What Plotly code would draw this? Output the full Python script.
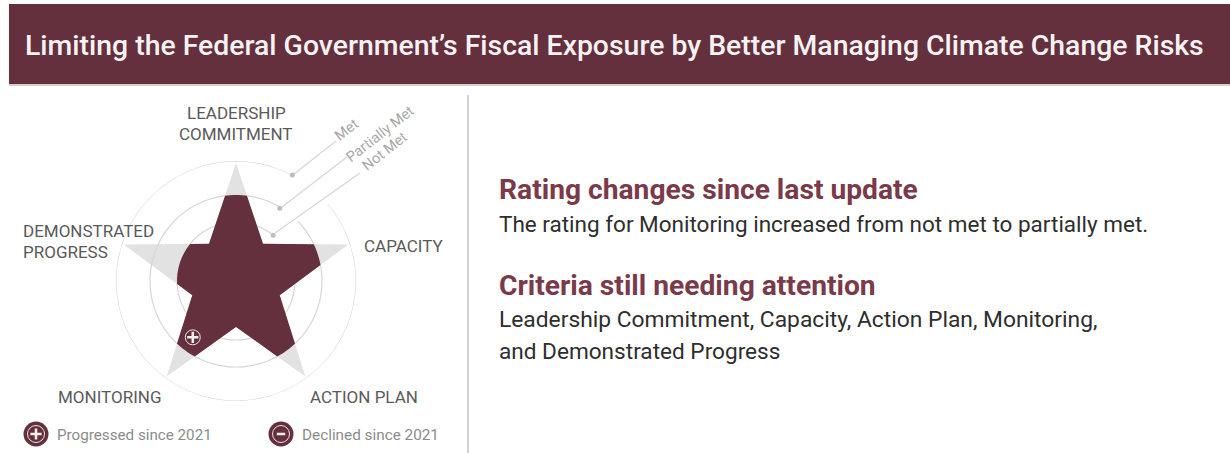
import numpy as np
import plotly.graph_objects as go

W, H = 1230, 453
MAROON = "#65303D"
HEAD = "#7A3A4A"
FONT = "Roboto"

title = "Limiting the Federal Government’s Fiscal Exposure by Better Managing Climate Change Risks"
criteria = ["LEADERSHIP<br>COMMITMENT", "CAPACITY", "ACTION PLAN", "MONITORING", "DEMONSTRATED<br>PROGRESS"]
levels = ["Not Met", "Partially Met", "Met"]
level_radius = [59, 86, 120]
ratings = ["Partially Met", "Partially Met", "Partially Met", "Partially Met", "Not Met"]
star_tip_radius = 118
star_inner_radius = 46
circle_gap_start = [39, 31, 28]
circle_gap_end = [58, 46, 50]


def px(x):
    return x / W


def py(y):
    return 1 - y / H


def cart(r, t):
    a = np.radians(t)
    return np.array([r * np.sin(a), r * np.cos(a)])


def polar_of(p):
    return float(np.hypot(*p)), float(np.degrees(np.arctan2(p[0], p[1])) % 360)


def edge_at(radius, tip_t, side):
    inner = cart(star_inner_radius, tip_t + side * 36)
    tip = cart(star_tip_radius, tip_t)
    lo, hi = 0.0, 1.0
    for _ in range(40):
        m = (lo + hi) / 2
        if np.hypot(*(inner + (tip - inner) * m)) < radius:
            lo = m
        else:
            hi = m
    return inner + (tip - inner) * lo


star_r, star_t = [], []
for i in range(5):
    tip_t = 72 * i
    star_r += [star_tip_radius, star_inner_radius]
    star_t += [tip_t, tip_t + 36]
star_r.append(star_r[0])
star_t.append(star_t[0])

rated_r, rated_t = [], []
for i, rating in enumerate(ratings):
    tip_t = 72 * i
    R = level_radius[levels.index(rating)]
    r0, t0 = polar_of(edge_at(R, tip_t, -1))
    r1, t1 = polar_of(edge_at(R, tip_t, 1))
    t0 = t0 if t0 <= tip_t or i else t0 - 360
    span = np.linspace(t0, t1, 9)
    rated_r += [R] * 9
    rated_t += list(span)
    rated_r.append(star_inner_radius)
    rated_t.append(tip_t + 36)
rated_r.append(rated_r[0])
rated_t.append(rated_t[0])

fig = go.Figure()

fig.add_trace(go.Scatterpolar(r=star_r, theta=star_t, mode="lines", fill="toself",
                              fillcolor="#E2E2E2", line=dict(color="#E2E2E2", width=0),
                              hoverinfo="skip", showlegend=False))
for R, g0, g1 in zip(level_radius, circle_gap_start, circle_gap_end):
    t = np.arange(g1, g0 + 361, 2.0)
    fig.add_trace(go.Scatterpolar(r=[R] * len(t), theta=t, mode="lines",
                                  line=dict(color="#D6D6D6", width=1.2), cliponaxis=False,
                                  hoverinfo="skip", showlegend=False))
fig.add_trace(go.Scatterpolar(r=rated_r, theta=rated_t, mode="lines", fill="toself",
                              fillcolor=MAROON, line=dict(color=MAROON, width=0),
                              hoverinfo="skip", showlegend=False))
fig.add_trace(go.Scatterpolar(r=[120, 85, 59], theta=[28, 31, 39], mode="markers",
                              marker=dict(color="#BDBDBD", size=5), cliponaxis=False,
                              hoverinfo="skip", showlegend=False))
# change marker on the Monitoring arm
fig.add_trace(go.Scatterpolar(r=[71], theta=[217.5], mode="markers",
                              marker=dict(color="rgba(0,0,0,0)", size=15, line=dict(color="#EDE4E6", width=1)),
                              hoverinfo="skip", showlegend=False))
fig.add_trace(go.Scatterpolar(r=[71], theta=[217.5], mode="markers",
                              marker=dict(symbol="cross-thin", size=8, line=dict(color="#F4EEEF", width=2.5)),
                              hoverinfo="skip", showlegend=False))

# legend icons
legend_x = [36, 281]
legend_y = [434, 434]
fig.add_trace(go.Scatter(x=legend_x, y=legend_y, mode="markers",
                         marker=dict(color=MAROON, size=25), hoverinfo="skip", showlegend=False))
fig.add_trace(go.Scatter(x=legend_x, y=legend_y, mode="markers",
                         marker=dict(color="rgba(0,0,0,0)", size=17, line=dict(color="#E9DFE1", width=1)),
                         hoverinfo="skip", showlegend=False))
fig.add_trace(go.Scatter(x=legend_x[:1], y=legend_y[:1], mode="markers",
                         marker=dict(symbol="cross-thin", size=8, line=dict(color="#F4EEEF", width=2.5)),
                         hoverinfo="skip", showlegend=False))
fig.add_trace(go.Scatter(x=legend_x[1:], y=legend_y[1:], mode="markers",
                         marker=dict(symbol="line-ew", size=6, line=dict(color="#F4EEEF", width=2.5)),
                         hoverinfo="skip", showlegend=False))

shapes = [
    dict(type="rect", xref="paper", yref="paper", x0=px(9), x1=1, y0=py(84), y1=py(4),
         fillcolor=MAROON, line_width=0, layer="below"),
    dict(type="line", xref="paper", yref="paper", x0=px(9), x1=1, y0=py(85), y1=py(85),
         line=dict(color="#C9BDC0", width=1.5), layer="below"),
    dict(type="line", xref="paper", yref="paper", x0=px(468), x1=px(468), y0=py(95), y1=py(453),
         line=dict(color="#D2D2D2", width=2), layer="below"),
]
leaders = [((294, 174), (336, 141)), ((282, 207), (347, 157)), ((275, 233), (360, 173))]
for (a, b) in leaders:
    shapes.append(dict(type="line", xref="paper", yref="paper", x0=px(a[0]), y0=py(a[1]),
                       x1=px(b[0]), y1=py(b[1]), line=dict(color="#D6D6D6", width=1.2), layer="below"))


def text(x, y, s, size, color, anchor="left", angle=0, weight=None):
    fig.add_annotation(xref="paper", yref="paper", x=px(x), y=py(y), text=s, showarrow=False,
                       xanchor=anchor, yanchor="middle", textangle=angle, align="left",
                       font=dict(family=FONT, size=size, color=color, weight=weight))


text(23, 46, title, 28.4, "#F7F3F4", weight=500)
text(497, 189, "<b>Rating changes since last update</b>", 28.2, HEAD)
text(497, 224, "The rating for Monitoring increased from not met to partially met.", 22.5, "#2E2E2E")
text(497, 285, "<b>Criteria still needing attention</b>", 28.2, HEAD)
text(497, 319, "Leadership Commitment, Capacity, Action Plan, Monitoring,", 22.8, "#2E2E2E")
text(497, 351, "and Demonstrated Progress", 22.6, "#2E2E2E")

label_pos = [(236, 113, "center"), (403, 246, "center"), (364, 397, "center"),
             (109, 397, "center"), (21, 231, "left")]
for lab, (x, y, anc) in zip(criteria, label_pos):
    if "<br>" in lab:
        a, b = lab.split("<br>")
        text(x, y, a, 17, "#5A5A5A", anc)
        text(x, y + 21, b, 17, "#5A5A5A", anc)
    else:
        text(x, y, lab, 17, "#5A5A5A", anc)

text(346, 130, "Met", 14.5, "#A8A8A8", "center", -38)
text(380, 135, "Partially Met", 14.5, "#A8A8A8", "center", -38)
text(385, 152, "Not Met", 14.5, "#A8A8A8", "center", -38)
text(55, 435, "Progressed since 2021", 15.2, "#8C8C8C")
text(300, 435, "Declined since 2021", 15.3, "#8C8C8C")

fig.update_layout(
    width=W, height=H, margin=dict(l=0, r=0, t=0, b=0), autosize=False,
    paper_bgcolor="white", plot_bgcolor="rgba(0,0,0,0)", showlegend=False, shapes=shapes,
    xaxis=dict(visible=False, range=[0, W], domain=[0, 1], fixedrange=True),
    yaxis=dict(visible=False, range=[H, 0], domain=[0, 1], fixedrange=True),
    polar=dict(domain=dict(x=[px(116), px(356)], y=[py(401), py(161)]),
               bgcolor="rgba(0,0,0,0)",
               radialaxis=dict(visible=False, range=[0, 120]),
               angularaxis=dict(visible=False, rotation=90, direction="clockwise")),
)
fig.write_html("out.html", config=dict(displayModeBar=False),
               post_script="document.body.style.margin='0';document.body.style.overflow='hidden';")
